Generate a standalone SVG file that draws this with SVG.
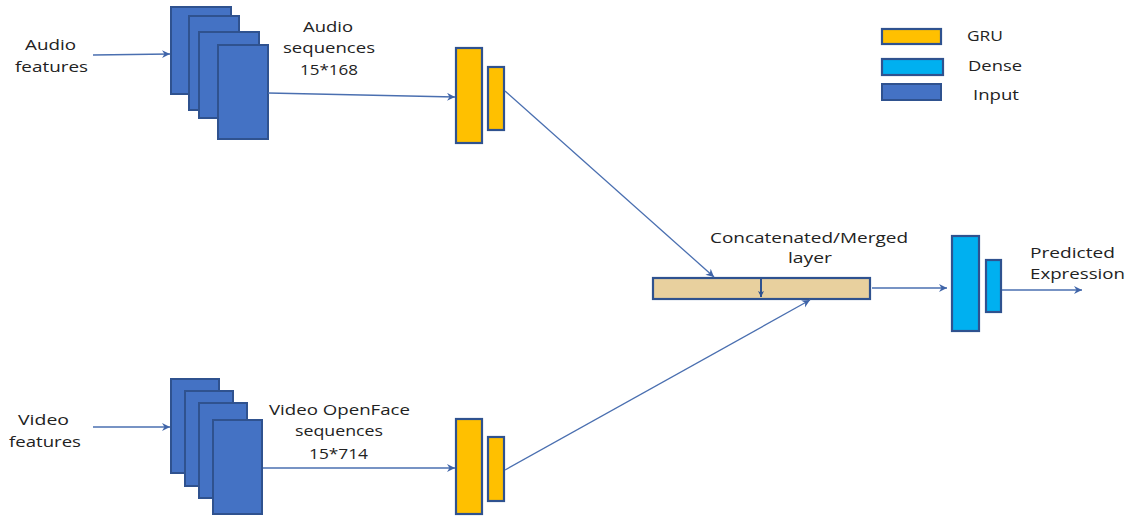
<svg xmlns="http://www.w3.org/2000/svg" width="1135" height="517" viewBox="0 0 1135 517">
<style>
.inp{fill:#4472C4;stroke:#2F528F;stroke-width:2}
.gru{fill:#FFC000;stroke:#2F528F;stroke-width:2.2}
.den{fill:#00B0F0;stroke:#2F528F;stroke-width:2.2}
.mrg{fill:#E8D09E;stroke:#2F528F;stroke-width:2.2}
.lbl{font-family:"Open Sans","Liberation Sans",sans-serif;font-size:15px;fill:#222222}
.ln{fill:none;stroke:#4A6FB0;stroke-width:1.3;marker-end:url(#ah)}
.dv{fill:none;stroke:#2F528F;stroke-width:2;marker-end:url(#ah2)}
</style>
<defs>
<marker id="ah" markerWidth="10" markerHeight="10" refX="8" refY="4" orient="auto" markerUnits="userSpaceOnUse">
<path d="M0,0 L8,4 L0,8 L2.5,4 Z" fill="#3F64A8"/>
</marker>
<marker id="ah2" markerWidth="10" markerHeight="10" refX="6" refY="3" orient="auto" markerUnits="userSpaceOnUse">
<path d="M0,0 L6,3 L0,6 L1.5,3 Z" fill="#2F528F"/>
</marker>
</defs>
<rect width="1135" height="517" fill="#FFFFFF"/>

<g id="audio-features">
<text class="lbl" x="25" y="50" textLength="51" lengthAdjust="spacingAndGlyphs">Audio</text>
<text class="lbl" x="15" y="72" textLength="73" lengthAdjust="spacingAndGlyphs">features</text>
</g>
<g id="audio-input">
<rect class="inp" x="171" y="7" width="60" height="87"/>
<rect class="inp" x="189" y="16" width="50" height="94"/>
<rect class="inp" x="199" y="32" width="60" height="86"/>
<rect class="inp" x="218" y="45" width="50" height="94"/>
<text class="lbl" x="303" y="32" textLength="50" lengthAdjust="spacingAndGlyphs">Audio</text>
<text class="lbl" x="283" y="53" textLength="92" lengthAdjust="spacingAndGlyphs">sequences</text>
<text class="lbl" x="300" y="75" textLength="58" lengthAdjust="spacingAndGlyphs">15*168</text>
</g>
<g id="audio-gru">
<rect class="gru" x="456" y="48" width="26" height="95"/>
<rect class="gru" x="488" y="67" width="16" height="63"/>
</g>

<g id="video-features">
<text class="lbl" x="18" y="425" textLength="51" lengthAdjust="spacingAndGlyphs">Video</text>
<text class="lbl" x="9" y="447" textLength="72" lengthAdjust="spacingAndGlyphs">features</text>
</g>
<g id="video-input">
<rect class="inp" x="171" y="379" width="48" height="94"/>
<rect class="inp" x="185" y="391" width="48" height="95"/>
<rect class="inp" x="199" y="403" width="48" height="95"/>
<rect class="inp" x="213" y="420" width="49" height="94"/>
<text class="lbl" x="269" y="415" textLength="141" lengthAdjust="spacingAndGlyphs">Video OpenFace</text>
<text class="lbl" x="295" y="436" textLength="88" lengthAdjust="spacingAndGlyphs">sequences</text>
<text class="lbl" x="309" y="459" textLength="59" lengthAdjust="spacingAndGlyphs">15*714</text>
</g>
<g id="video-gru">
<rect class="gru" x="456" y="419" width="26" height="95"/>
<rect class="gru" x="488" y="437" width="16" height="64"/>
</g>

<g id="merged">
<rect class="mrg" x="653" y="278" width="217" height="21"/>
<text class="lbl" x="710" y="243" textLength="198" lengthAdjust="spacingAndGlyphs">Concatenated/Merged</text>
<text class="lbl" x="788" y="263" textLength="44" lengthAdjust="spacingAndGlyphs">layer</text>
</g>
<g id="dense">
<rect class="den" x="952" y="236" width="27" height="95"/>
<rect class="den" x="986" y="260" width="15" height="52"/>
</g>
<g id="output">
<text class="lbl" x="1030" y="258" textLength="85" lengthAdjust="spacingAndGlyphs">Predicted</text>
<text class="lbl" x="1030" y="279" textLength="95" lengthAdjust="spacingAndGlyphs">Expression</text>
</g>

<g id="legend">
<rect class="gru" x="882" y="29" width="59" height="15"/>
<rect class="den" x="882" y="59" width="61" height="16"/>
<rect class="inp" x="882" y="84" width="59" height="16"/>
<text class="lbl" x="967" y="41" textLength="36" lengthAdjust="spacingAndGlyphs">GRU</text>
<text class="lbl" x="968" y="71" textLength="54" lengthAdjust="spacingAndGlyphs">Dense</text>
<text class="lbl" x="973" y="100" textLength="46" lengthAdjust="spacingAndGlyphs">Input</text>
</g>

<g id="connectors">
<line class="ln" x1="93" y1="55" x2="170" y2="54"/>
<line class="ln" x1="268" y1="93" x2="455" y2="97"/>
<line class="ln" x1="505" y1="91" x2="714" y2="277"/>
<line class="ln" x1="93" y1="427" x2="170" y2="427"/>
<line class="ln" x1="263" y1="468" x2="455" y2="468"/>
<line class="ln" x1="505" y1="470" x2="810" y2="300"/>
<line class="dv" x1="761" y1="278" x2="761" y2="297"/>
<line class="ln" x1="872" y1="288" x2="947" y2="288"/>
<line class="ln" x1="1002" y1="290" x2="1082" y2="290"/>
</g>
</svg>
